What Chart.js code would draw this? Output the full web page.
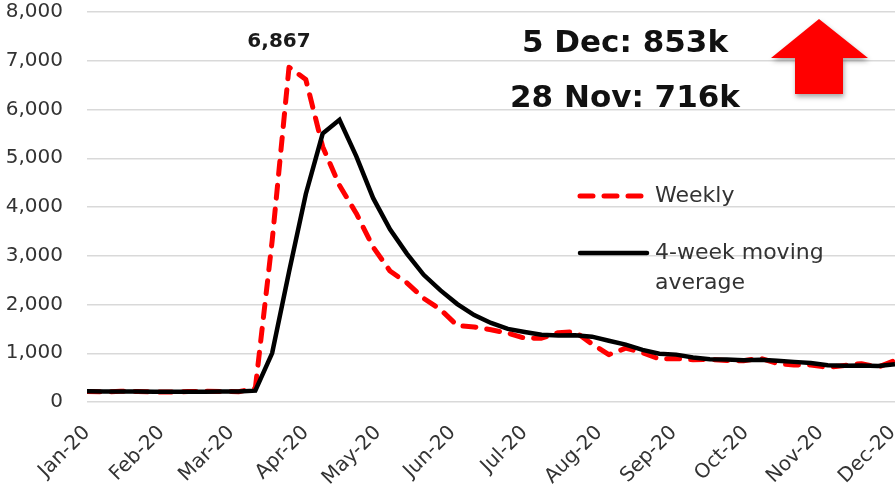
<!DOCTYPE html>
<html>
<head>
<meta charset="utf-8">
<script src="https://cdn.jsdelivr.net/npm/chart.js@4/dist/chart.umd.min.js"></script>
<style>
  html, body { margin: 0; padding: 0; background: #ffffff; }
  #c { display: block; }
</style>
</head>
<body>
<canvas id="c" width="895" height="490"></canvas>
<script>
// Initial jobless claims, seasonally adjusted, thousands (week ending Saturday)
const weekEnding = [
  '2020-01-04','2020-01-11','2020-01-18','2020-01-25',
  '2020-02-01','2020-02-08','2020-02-15','2020-02-22','2020-02-29',
  '2020-03-07','2020-03-14','2020-03-21','2020-03-28',
  '2020-04-04','2020-04-11','2020-04-18','2020-04-25',
  '2020-05-02','2020-05-09','2020-05-16','2020-05-23','2020-05-30',
  '2020-06-06','2020-06-13','2020-06-20','2020-06-27',
  '2020-07-04','2020-07-11','2020-07-18','2020-07-25',
  '2020-08-01','2020-08-08','2020-08-15','2020-08-22','2020-08-29',
  '2020-09-05','2020-09-12','2020-09-19','2020-09-26',
  '2020-10-03','2020-10-10','2020-10-17','2020-10-24','2020-10-31',
  '2020-11-07','2020-11-14','2020-11-21','2020-11-28',
  '2020-12-05'
];

const weeklyClaims = [
  214, 207, 220, 217,
  204, 205, 215, 219, 217,
  211, 282, 3307, 6867,
  6615, 5237, 4442, 3867,
  3176, 2687, 2446, 2126, 1897,
  1566, 1540, 1482, 1413,
  1310, 1308, 1422, 1440,
  1191, 971, 1104, 1011, 881,
  893, 866, 873, 849,
  845, 898, 791, 758, 757,
  711, 748, 787, 716,
  853
];

const movingAverage = [
  220, 216, 215, 215,
  212, 212, 210, 211, 214,
  216, 232, 1004, 2667,
  4268, 5507, 5790, 5040,
  4181, 3543, 3044, 2609, 2289,
  2009, 1782, 1621, 1500,
  1436, 1378, 1363, 1370,
  1340, 1256, 1177, 1069, 992,
  972, 913, 878, 870,
  858, 866, 846, 823, 801,
  754, 744, 751, 741,
  776
];

const seriesNames = ['Weekly', '4-week moving average'];

const monthTickDates = [
  '2020-01-04','2020-02-04','2020-03-04','2020-04-04','2020-05-04','2020-06-04',
  '2020-07-04','2020-08-04','2020-09-04','2020-10-04','2020-11-04','2020-12-04'
];
const monthTickLabels = [
  'Jan-20','Feb-20','Mar-20','Apr-20','May-20','Jun-20',
  'Jul-20','Aug-20','Sep-20','Oct-20','Nov-20','Dec-20'
];

const calloutLines = ['5 Dec: 853k', '28 Nov: 716k'];

// ---- helpers ----
const DAY0 = Date.UTC(2020, 0, 1);
function dayNum(iso) {
  const [y, m, d] = iso.split('-').map(Number);
  return (Date.UTC(y, m - 1, d) - DAY0) / 86400000;
}
const fmt = v => Number(v).toLocaleString('en-US');

const weeklyPoints = weekEnding.map((d, i) => ({ x: dayNum(d), y: weeklyClaims[i] }));
const averagePoints = weekEnding.map((d, i) => ({ x: dayNum(d), y: movingAverage[i] }));

const FONT = "'DejaVu Sans', sans-serif";
const TEXT = '#333333';

// Peak annotation above the highest weekly value
const peakLabelPlugin = {
  id: 'peakLabel',
  afterDatasetsDraw(chart) {
    const meta = chart.getDatasetMeta(0);
    let idx = 0;
    weeklyClaims.forEach((v, i) => { if (v > weeklyClaims[idx]) idx = i; });
    const pt = meta.data[idx];
    const ctx = chart.ctx;
    ctx.save();
    ctx.font = "bold 20px " + FONT;
    ctx.fillStyle = '#1a1a1a';
    ctx.textAlign = 'center';
    ctx.textBaseline = 'alphabetic';
    ctx.fillText(fmt(weeklyClaims[idx]), pt.x - 10, pt.y - 20);
    ctx.restore();
  }
};

// Legend drawn inside the plot, callout text and up arrow
const overlayPlugin = {
  id: 'overlay',
  afterDraw(chart) {
    const ctx = chart.ctx;
    const ds = chart.data.datasets;
    ctx.save();

    // legend
    ctx.font = "22px " + FONT;
    ctx.fillStyle = TEXT;
    ctx.textAlign = 'left';
    ctx.textBaseline = 'middle';

    ctx.lineWidth = ds[0].borderWidth;
    ctx.strokeStyle = ds[0].borderColor;
    ctx.lineCap = 'round';
    ctx.setLineDash(ds[0].borderDash);
    ctx.beginPath();
    ctx.moveTo(580, 196); ctx.lineTo(646, 196);
    ctx.stroke();
    ctx.fillText(ds[0].label, 655, 196);

    ctx.setLineDash([]);
    ctx.lineWidth = ds[1].borderWidth;
    ctx.strokeStyle = ds[1].borderColor;
    ctx.beginPath();
    ctx.moveTo(580, 253); ctx.lineTo(647, 253);
    ctx.stroke();
    const words = ds[1].label.split(' ');
    ctx.fillText(words.slice(0, 2).join(' '), 655, 253);
    ctx.fillText(words.slice(2).join(' '), 655, 283);

    // callout
    ctx.font = "bold 31px " + FONT;
    ctx.fillStyle = '#111111';
    ctx.textAlign = 'center';
    ctx.textBaseline = 'alphabetic';
    ctx.fillText(calloutLines[0], 625, 52);
    ctx.fillText(calloutLines[1], 625, 107);

    // up arrow with soft shadow
    ctx.shadowColor = 'rgba(0,0,0,0.35)';
    ctx.shadowBlur = 5;
    ctx.shadowOffsetX = 1;
    ctx.shadowOffsetY = 3;
    ctx.fillStyle = '#ff0000';
    ctx.beginPath();
    ctx.moveTo(819, 19);
    ctx.lineTo(868, 58);
    ctx.lineTo(843, 58);
    ctx.lineTo(843, 94);
    ctx.lineTo(795, 94);
    ctx.lineTo(795, 58);
    ctx.lineTo(771, 58);
    ctx.closePath();
    ctx.fill();
    ctx.restore();
  }
};

new Chart(document.getElementById('c'), {
  type: 'line',
  data: {
    datasets: [
      {
        label: seriesNames[0],
        data: weeklyPoints,
        borderColor: '#ff0000',
        borderWidth: 5,
        borderDash: [13, 11],
        borderCapStyle: 'round',
        borderJoinStyle: 'round',
        pointRadius: 0,
        tension: 0,
        fill: false,
        order: 2
      },
      {
        label: seriesNames[1],
        data: averagePoints,
        borderColor: '#000000',
        borderWidth: 4.5,
        borderCapStyle: 'butt',
        borderJoinStyle: 'miter',
        pointRadius: 0,
        tension: 0,
        fill: false,
        order: 1
      }
    ]
  },
  options: {
    responsive: false,
    animation: false,
    devicePixelRatio: 1,
    layout: { padding: { top: 12, right: 0, bottom: 0, left: 0 } },
    plugins: {
      legend: { display: false },
      tooltip: { enabled: false }
    },
    scales: {
      x: {
        type: 'linear',
        min: dayNum(weekEnding[0]),
        max: dayNum(weekEnding[weekEnding.length - 1]),
        afterBuildTicks(scale) {
          scale.ticks = monthTickDates.map(d => ({ value: dayNum(d) }));
        },
        afterFit(scale) {
          scale.height = 88;
          scale.paddingLeft = 0;
          scale.paddingRight = 0;
        },
        grid: { display: false, drawTicks: false },
        border: { display: false },
        ticks: {
          autoSkip: false,
          minRotation: 45,
          maxRotation: 45,
          padding: 19,
          color: TEXT,
          font: { family: FONT, size: 20 },
          callback: (v, i) => monthTickLabels[i]
        }
      },
      y: {
        min: 0,
        max: 8000,
        afterFit(scale) {
          scale.width = 87;
          scale.paddingTop = 0;
          scale.paddingBottom = 0;
        },
        grid: { color: '#d9d9d9', lineWidth: 1.5, drawTicks: false },
        border: { display: false },
        ticks: {
          stepSize: 1000,
          padding: 24,
          color: TEXT,
          font: { family: FONT, size: 20 },
          callback: v => fmt(v)
        }
      }
    }
  },
  plugins: [peakLabelPlugin, overlayPlugin]
});
</script>
</body>
</html>
